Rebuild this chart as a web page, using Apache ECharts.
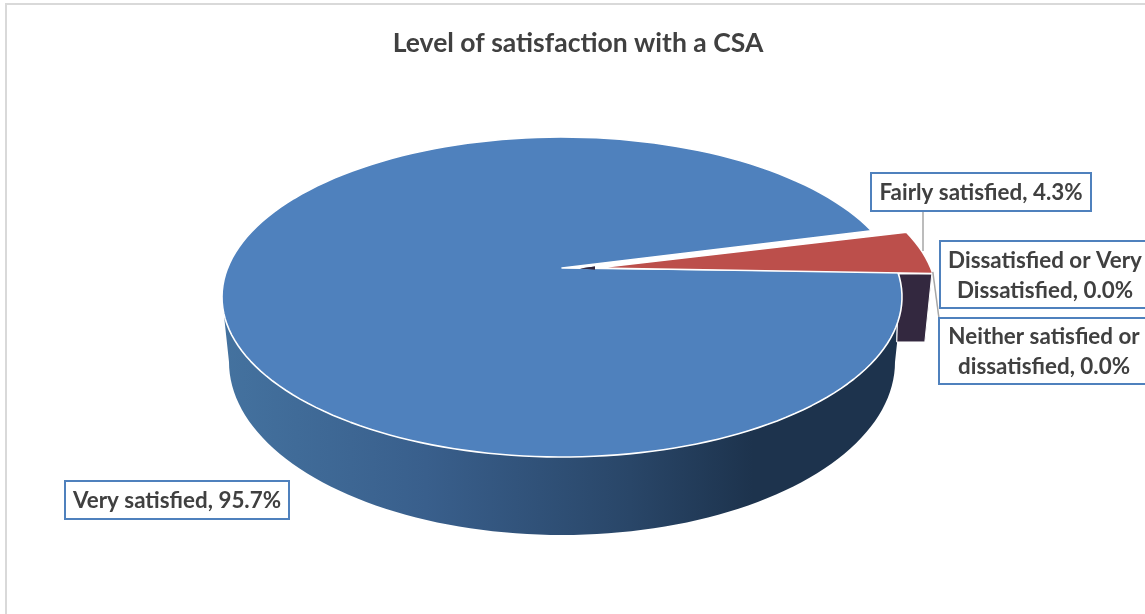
<!DOCTYPE html>
<html>
<head>
<meta charset="utf-8">
<style>html,body{margin:0;padding:0;background:#fff}#c{width:1145px;height:614px}</style>
<script src="https://cdn.jsdelivr.net/npm/echarts@6/dist/echarts.min.js"></script>
</head>
<body>
<div id="c"></div>
<script>
var titleText = 'Level of satisfaction with a CSA';
var categories = ['Very satisfied', 'Fairly satisfied', 'Dissatisfied or Very Dissatisfied', 'Neither satisfied or dissatisfied'];
var values = [95.7, 4.3, 0, 0];
var colors = ['#4f81bd', '#bc4f4b', '#33283f', '#33283f'];
var explode = [0, 35, 35, 35];
var boxes = [[65, 481, 224, 38], [871, 173, 220, 38], [940, 241, 210, 67], [939, 318, 210, 66]];

var CX = 562, CY = 297, RX = 340, RY = 160;
var APEX_Y = 268;
var START = 9;
var LOW = { cy: 362, rx: 333, ry: 173 };
var total = values.reduce(function (a, b) { return a + b; }, 0);
var starts = [], t = START;
values.forEach(function (v) { starts.push(t); t -= v / total * 360; });

function rim(deg, dx, dy) {
  var r = deg * Math.PI / 180;
  return [CX + (dx || 0) + RX * Math.cos(r), CY + (dy || 0) - RY * Math.sin(r)];
}
function lowRim(deg) {
  var r = deg * Math.PI / 180;
  return [CX + LOW.rx * Math.cos(r), LOW.cy - LOW.ry * Math.sin(r)];
}
function sector(from, span, dx, dy) {
  var pts = [[CX + dx, APEX_Y]], n = Math.max(2, Math.ceil(span / 2));
  for (var i = 0; i <= n; i++) pts.push(rim(from - span * i / n, dx, dy));
  return pts;
}
function wallPoints() {
  var pts = [], d;
  for (d = 0; d >= -180; d -= 2) pts.push(rim(d));
  for (d = -180; d <= 0; d += 2) pts.push(lowRim(d));
  return pts;
}
var FONT = 'bold 22.4px Lato, "Open Sans", sans-serif';

function box(i, text) {
  var b = boxes[i];
  return [
    { type: 'rect', z2: 6, shape: { x: b[0], y: b[1], width: b[2], height: b[3] },
      style: { fill: '#fff', stroke: '#4f81bd', lineWidth: 2 } },
    { type: 'text', z2: 7, style: { text: text, x: b[0] + b[2] / 2, y: b[1] + b[3] / 2 + 1,
      align: 'center', verticalAlign: 'middle', fill: '#404040', font: FONT, lineHeight: 30 } }
  ];
}
function renderItem(params, api) {
  var i = params.dataIndex, v = api.value(0), span = v / total * 360, kids = [];
  var text = categories[i].replace(/ (?=[Dd]issatisfied$)/, '\n');
  text = text + ', ' + v.toFixed(1) + '%';
  if (v > 0) {
    if (i === 0) {
      kids.push({ type: 'polygon', z2: 1, shape: { points: wallPoints() }, style: {
        fill: new echarts.graphic.LinearGradient(0, 0, 1, 0, [
          { offset: 0, color: '#44729f' }, { offset: 0.3, color: '#395f8c' },
          { offset: 0.6, color: '#294668' }, { offset: 0.78, color: '#1d334d' }, { offset: 1, color: '#1d334d' }
        ]) } });
    }
    kids.push({ type: 'polygon', z2: 3 + i, shape: { points: sector(starts[i], span, explode[i], explode[i] ? 1.5 : 0) },
      style: { fill: colors[i], stroke: '#fff', lineWidth: 1.6, lineJoin: 'round' } });
  } else {
    var p = rim(starts[i]), q = rim(starts[i], explode[i]);
    kids.push({ type: 'polygon', z2: 2, shape: { points: [[p[0] + 1, p[1] + 2], [q[0] - 1, q[1] + 2], [q[0] - 8, q[1] + 70], [p[0] - 1, p[1] + 70]] },
      style: { fill: colors[i], stroke: '#fff', lineWidth: 1 } });
    kids.push({ type: 'polygon', z2: 5, shape: { points: [[CX + 18, APEX_Y + 0.5], [CX + 33, APEX_Y - 1.5], [CX + 33, APEX_Y + 1.5]] },
      style: { fill: colors[i] } });
    if (i === 3) {
      kids.push({ type: 'line', z2: 5, shape: { x1: q[0], y1: q[1], x2: boxes[i][0] + 1, y2: boxes[i][1] + 8 },
        style: { stroke: '#a6a6a6', lineWidth: 1.5 } });
    }
  }
  if (i === 1) {
    var lx = boxes[i][0] + 52;
    kids.push({ type: 'line', z2: 5, shape: { x1: lx, y1: boxes[i][1] + boxes[i][3], x2: lx, y2: 251 },
      style: { stroke: '#a6a6a6', lineWidth: 1.5 } });
  }
  return { type: 'group', children: kids.concat(box(i, text)) };
}

var chart = echarts.init(document.getElementById('c'));
chart.setOption({
  animation: false,
  backgroundColor: '#fff',
  title: { text: titleText, left: 573, top: 25, textAlign: 'center',
    textStyle: { fontFamily: 'Lato, "Open Sans", sans-serif', fontWeight: 'bold', fontSize: 26.5, color: '#404040' } },
  graphic: [{ type: 'rect', silent: true, z: -1, shape: { x: 6, y: 4, width: 1160, height: 640 },
    style: { fill: '#fff', stroke: '#d9d9d9', lineWidth: 2 } }],
  series: [{
    type: 'custom', coordinateSystem: 'none', silent: true,
    renderItem: renderItem,
    data: categories.map(function (c, i) { return { name: c, value: [values[i]] }; })
  }]
});
</script>
</body>
</html>
